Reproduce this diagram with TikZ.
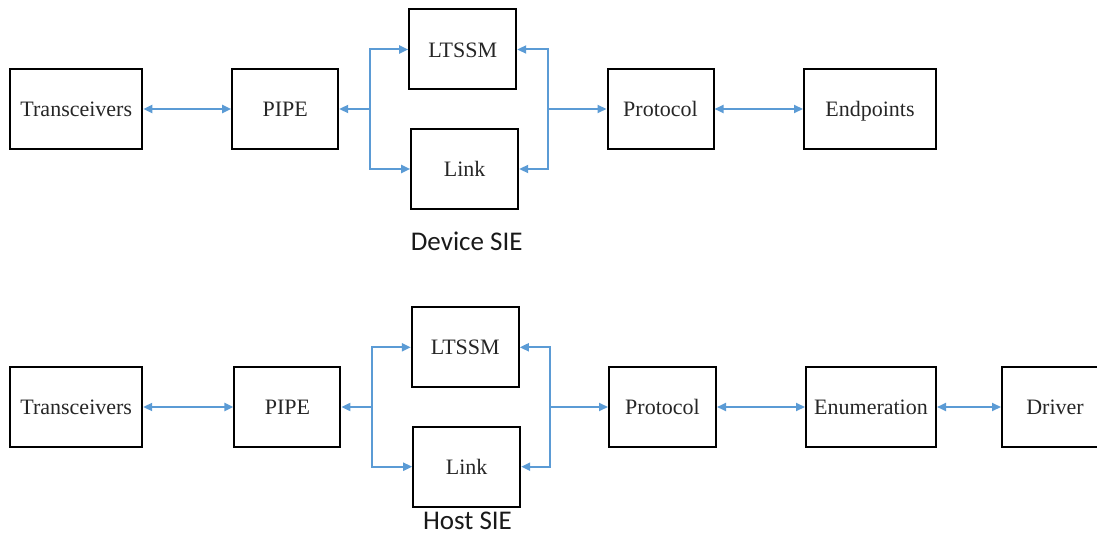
\documentclass[tikz,border=0pt]{standalone}
\usepackage{fontspec}
\setmainfont{Liberation Serif}
\newfontfamily\labelfont{Carlito}
\usetikzlibrary{arrows.meta}
\definecolor{arrblue}{HTML}{5B9BD5}
\tikzset{
  blk/.style={draw=black, line width=2pt, minimum height=80pt, inner sep=0pt, text height=15.2pt, text depth=0pt, font=\fontsize{22}{26}\selectfont, text=black!85},
  arr/.style={draw=arrblue, line width=2pt, arrows={-}},
  tip/.style={-{Triangle[length=9pt,width=8pt]}},
  tips/.style={{Triangle[length=9pt,width=8pt]}-{Triangle[length=9pt,width=8pt]}},
  sielabel/.style={anchor=base, font=\labelfont\fontsize{27}{32}\selectfont, text=black!90, inner sep=0pt}
}
\begin{document}
\begin{tikzpicture}[x=1pt,y=-1pt]
\useasboundingbox (0,0) rectangle (1097,537);
\clip (0,0) rectangle (1097,537);
% ---------- Device SIE ----------
\node[blk, minimum width=132pt] (tr1) at (76.3,109) {Transceivers};
\node[blk, minimum width=106pt] (pipe1) at (285.2,109) {PIPE};
\node[blk, minimum width=107pt] (lt1) at (462.7,49.5) {LTSSM};
\node[blk, minimum width=107pt] (lk1) at (464.7,169) {Link};
\node[blk, minimum width=106pt] (pr1) at (660.5,109) {Protocol};
\node[blk, minimum width=132pt] (ep1) at (870,109) {Endpoints};
\coordinate (bl1) at (369.5,109);
\coordinate (br1) at (547.5,109);
\draw[arr,tips] (tr1.east) -- (pipe1.west);
\draw[arr,tip] (bl1) -- (pipe1.east);
\draw[arr,tip] (bl1) |- (lt1.west);
\draw[arr,tip] (bl1) |- (lk1.west);
\draw[arr,tip] (br1) -- (pr1.west);
\draw[arr,tip] (br1) |- (lt1.east);
\draw[arr,tip] (br1) |- (lk1.east);
\draw[arr,tips] (pr1.east) -- (ep1.west);
\node[sielabel] (dev) at (466.7,250.7) {Device SIE};
% ---------- Host SIE ----------
\node[blk, minimum width=132pt] (tr2) at (76.2,407) {Transceivers};
\node[blk, minimum width=106pt] (pipe2) at (287.4,407) {PIPE};
\node[blk, minimum width=107pt] (lt2) at (465.3,347.3) {LTSSM};
\node[blk, minimum width=107pt] (lk2) at (466.7,466.7) {Link};
\node[blk, minimum width=107pt] (pr2) at (662.5,407) {Protocol};
\node[blk, minimum width=130pt] (en2) at (871,407) {Enumeration};
\node[blk, minimum width=106pt] (dr2) at (1055,407) {Driver};
\coordinate (bl2) at (371.5,407);
\coordinate (br2) at (549.5,407);
\draw[arr,tips] (tr2.east) -- (pipe2.west);
\draw[arr,tip] (bl2) -- (pipe2.east);
\draw[arr,tip] (bl2) |- (lt2.west);
\draw[arr,tip] (bl2) |- (lk2.west);
\draw[arr,tip] (br2) -- (pr2.west);
\draw[arr,tip] (br2) |- (lt2.east);
\draw[arr,tip] (br2) |- (lk2.east);
\draw[arr,tips] (pr2.east) -- (en2.west);
\draw[arr,tips] (en2.east) -- (dr2.west);
\node[sielabel] (host) at (467.5,529.5) {Host SIE};
\end{tikzpicture}
\end{document}
